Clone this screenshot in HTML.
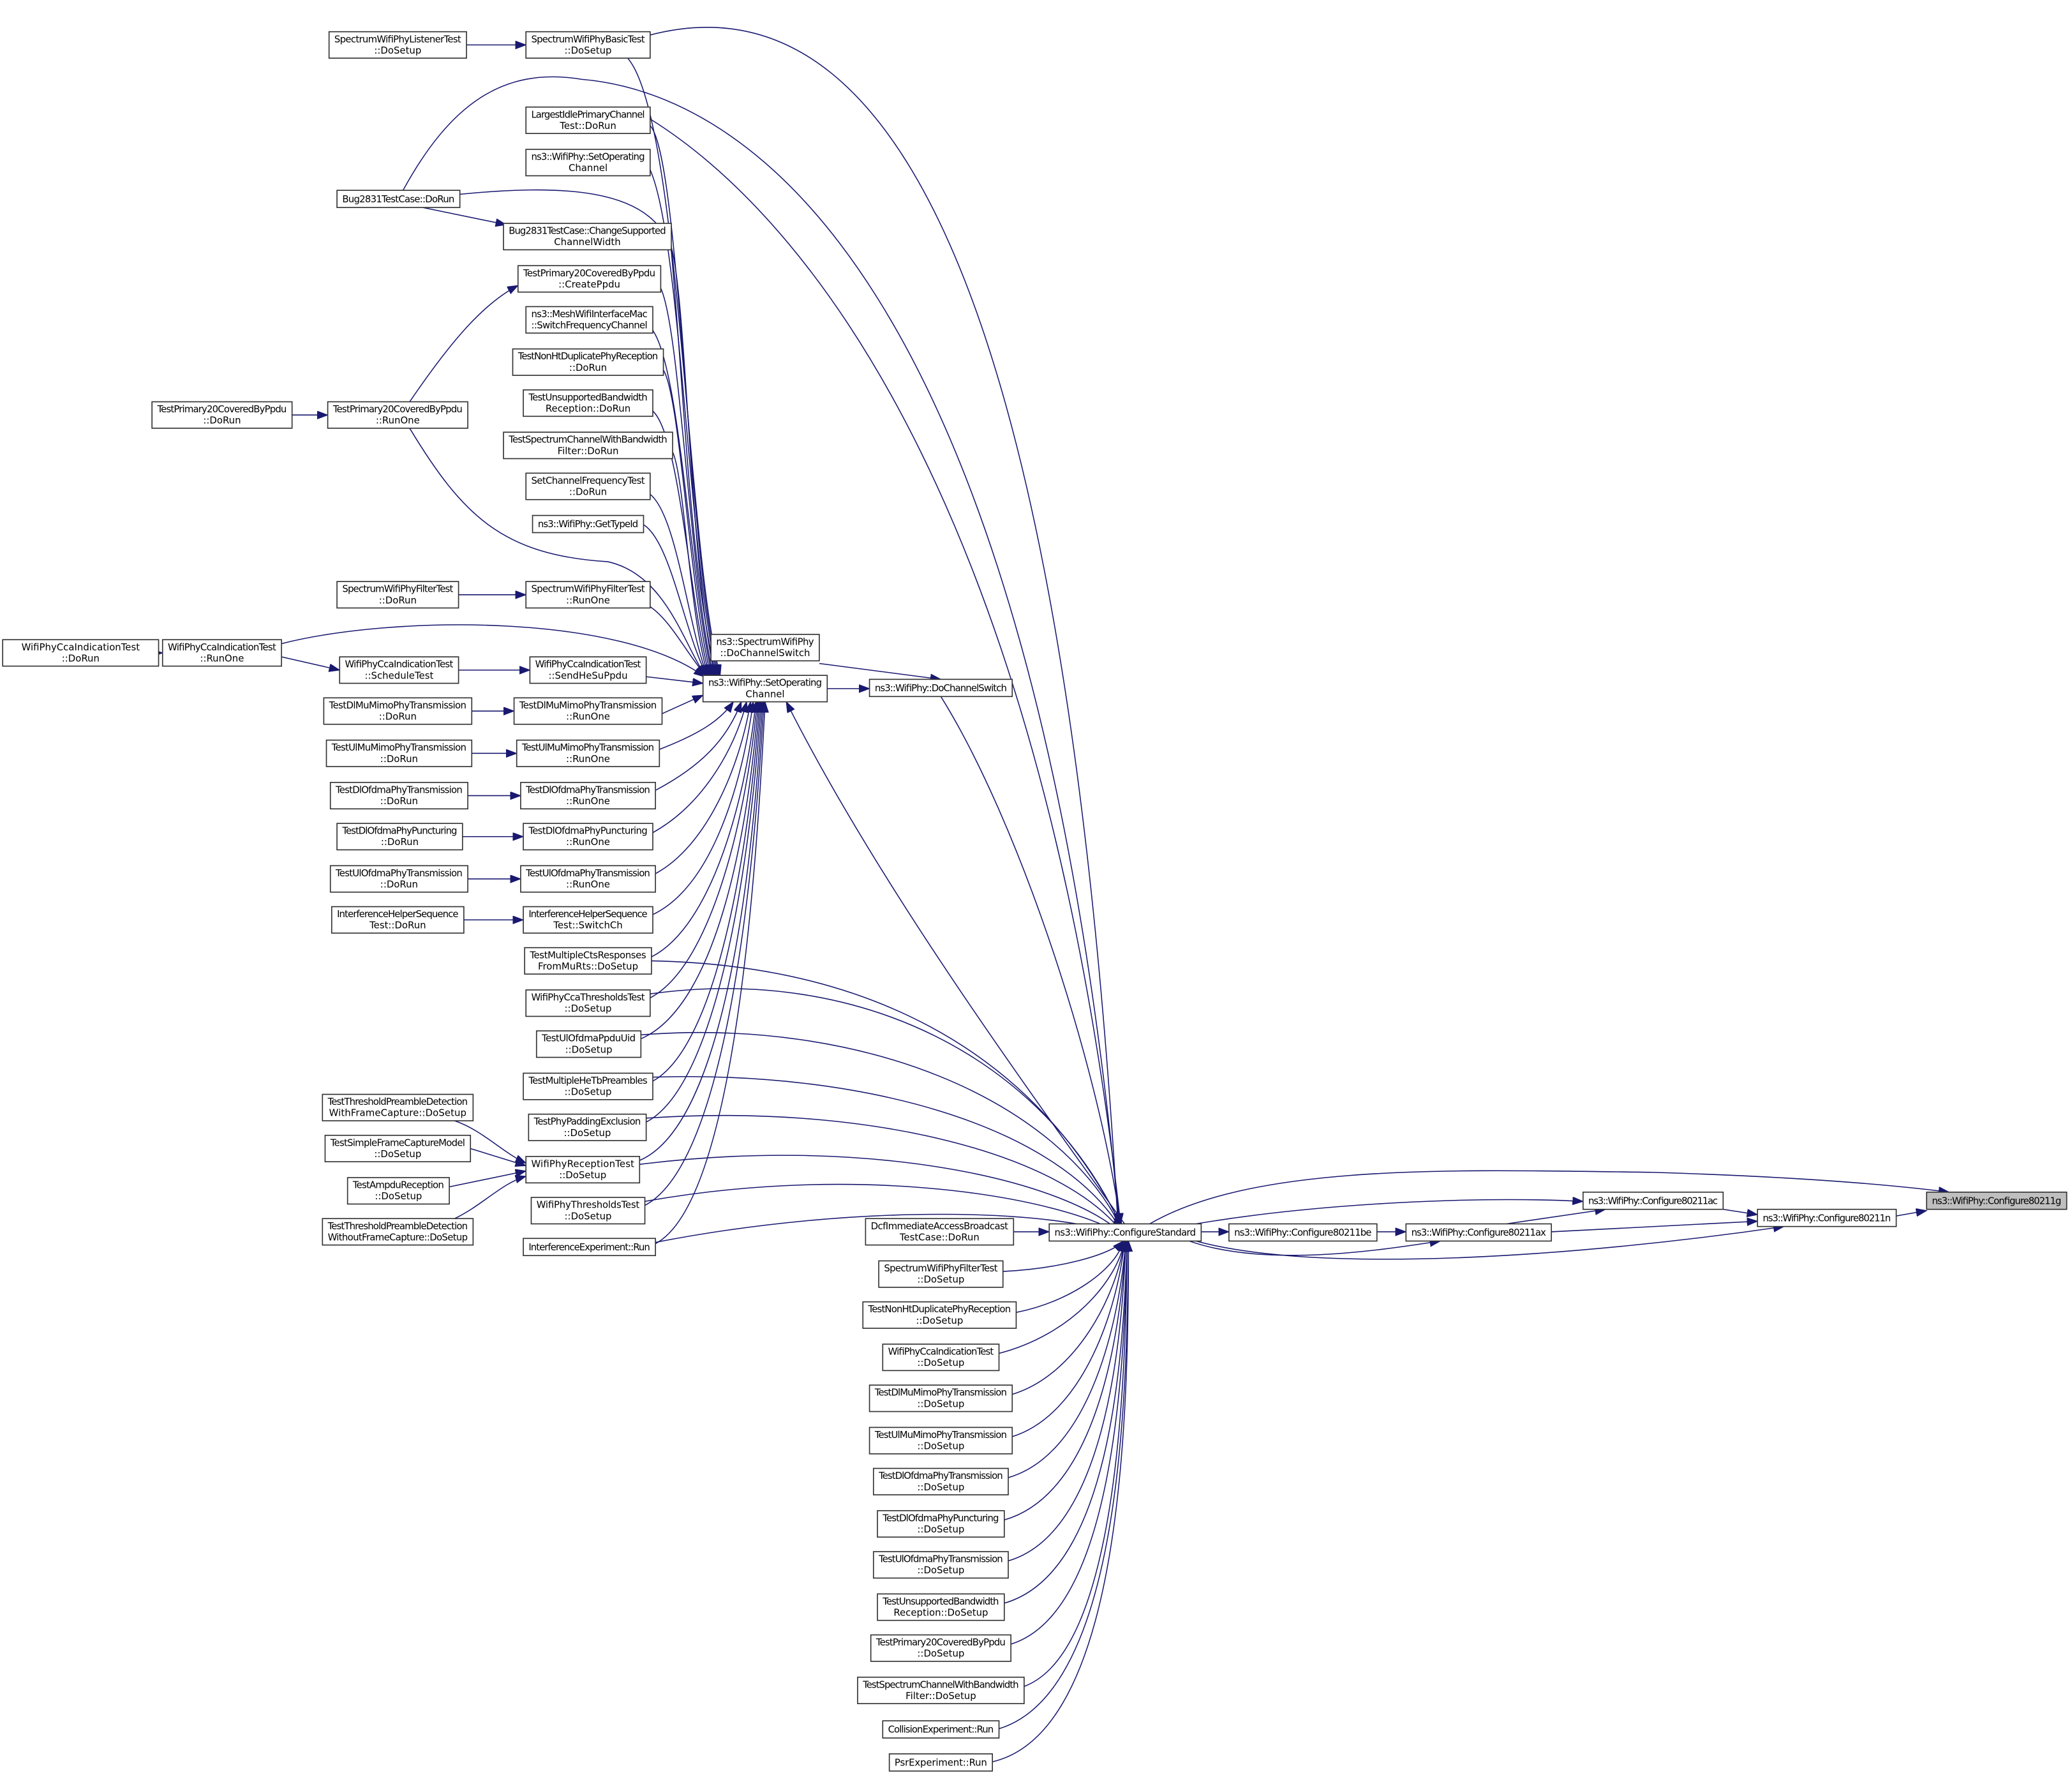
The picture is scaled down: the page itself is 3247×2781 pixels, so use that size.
<!DOCTYPE html>
<html><head><meta charset="utf-8"><style>
html,body{margin:0;padding:0;background:#fff}
svg{display:block}
text{font-family:"DejaVu Sans","Liberation Sans",sans-serif;font-size:7.2px;fill:#000;text-anchor:middle}
rect{fill:#fff;stroke:#333;stroke-width:0.8}
path.e{fill:none;stroke:#191970;stroke-width:0.75}
</style></head><body>
<svg width="3247" height="2781" viewBox="0 0 1568 1343" xmlns="http://www.w3.org/2000/svg">
<defs><marker id="a" markerUnits="userSpaceOnUse" markerWidth="9" markerHeight="7" refX="8" refY="3" orient="auto"><path d="M0,0 L8,3 L0,6 z" fill="#191970" stroke="#191970" stroke-width="0.5"/></marker></defs>
<g id="edges" marker-end="url(#a)">
<path class="e" d="M353,34 L398,34"/>
<path class="e" d="M221,314 L248,314"/>
<path class="e" d="M120,494 L123,494"/>
<path class="e" d="M347,450 L398,450"/>
<path class="e" d="M347,507 L401,507"/>
<path class="e" d="M357,538 L389,538"/>
<path class="e" d="M357,570 L391,570"/>
<path class="e" d="M354,602 L394,602"/>
<path class="e" d="M350,633 L396,633"/>
<path class="e" d="M354,665 L394,665"/>
<path class="e" d="M351,696 L396,696"/>
<path class="e" d="M213,497 L257,507"/>
<path class="e" d="M320,157 L383,170"/>
<path class="e" d="M310,304 C340,260 365,230 392,216"/>
<path class="e" d="M344,848 C365,855 380,872 398,880"/>
<path class="e" d="M356,869 L398,882"/>
<path class="e" d="M340,898 L398,886"/>
<path class="e" d="M344,922 C365,912 380,895 398,890"/>
<!-- to SOC from top -->
<path class="e" d="M475,44 C515,90 520,420 545,511"/>
<path class="e" d="M492,95 C515,120 520,420 544,511"/>
<path class="e" d="M489,123 C515,160 520,420 543,511"/>
<path class="e" d="M348,147 C420,140 495,140 508,190 C518,300 522,430 542,511"/>
<path class="e" d="M508,187 C520,230 522,430 541,511"/>
<path class="e" d="M500,218 C515,250 522,440 540,511"/>
<path class="e" d="M494,250 C515,280 522,440 539,511"/>
<path class="e" d="M502,280 C515,300 522,450 538,511"/>
<path class="e" d="M494,311 C515,330 522,460 537,511"/>
<path class="e" d="M509,342 C518,360 522,470 536,511"/>
<path class="e" d="M492,374 C512,390 520,470 535,511"/>
<path class="e" d="M487,397 C508,410 518,480 535,511"/>
<path class="e" d="M310,324 C350,390 380,420 460,425 C505,435 518,490 534,511"/>
<path class="e" d="M492,459 C508,470 520,495 534,511"/>
<path class="e" d="M213,487 C300,465 470,465 533,512"/>
<path class="e" d="M489,512 L532,517"/>
<path class="e" d="M501,540 L532,526"/>
<!-- to SOC from below -->
<path class="e" d="M499,567 C530,555 545,545 555,531"/>
<path class="e" d="M496,598 C530,580 550,560 561,531"/>
<path class="e" d="M494,630 C530,610 555,570 565,531"/>
<path class="e" d="M496,661 C535,640 560,580 568,531"/>
<path class="e" d="M494,692 C540,670 562,590 570,531"/>
<path class="e" d="M493,724 C540,700 565,600 572,531"/>
<path class="e" d="M492,755 C540,730 566,610 573,531"/>
<path class="e" d="M485,786 C545,760 567,620 574,531"/>
<path class="e" d="M494,818 C545,790 568,630 575,531"/>
<path class="e" d="M489,849 C545,820 569,640 576,531"/>
<path class="e" d="M484,878 C550,850 570,650 577,531"/>
<path class="e" d="M488,912 C550,880 571,660 578,531"/>
<path class="e" d="M496,941 C555,910 572,670 579,531"/>
<path class="e" d="M851,926 C760,800 660,660 595,531"/>
<!-- DoChannelSwitch -->
<path class="e" d="M620,502 L712,514"/>
<path class="e" d="M626,521 L658,521"/>
<path class="e" d="M712,527 C770,620 830,800 848,926"/>
<!-- to ConfigureStandard from left/top -->
<path class="e" d="M490,27 C700,-30 810,300 846,926"/>
<path class="e" d="M305,144 C340,80 380,50 440,60 C560,70 780,200 847,926"/>
<path class="e" d="M492,90 C620,170 790,400 848,926"/>
<path class="e" d="M493,727 C650,730 780,790 849,928"/>
<path class="e" d="M492,752 C650,730 790,800 849,929"/>
<path class="e" d="M485,783 C650,770 800,830 849,930"/>
<path class="e" d="M494,815 C650,810 800,850 849,931"/>
<path class="e" d="M489,846 C650,835 800,870 849,932"/>
<path class="e" d="M484,881 C650,860 800,890 849,933"/>
<path class="e" d="M488,909 C650,880 800,905 849,934"/>
<path class="e" d="M496,940 C650,910 800,915 849,935"/>
<path class="e" d="M767,932 L794,932"/>
<!-- to CS from column E below -->
<path class="e" d="M759,962 C800,960 840,950 850,939"/>
<path class="e" d="M769,993 C810,985 845,960 850,939"/>
<path class="e" d="M756,1024 C810,1010 845,970 851,939"/>
<path class="e" d="M766,1055 C815,1040 845,980 851,939"/>
<path class="e" d="M766,1087 C820,1070 846,990 851,939"/>
<path class="e" d="M763,1118 C825,1100 847,1000 852,939"/>
<path class="e" d="M760,1150 C830,1130 848,1010 852,939"/>
<path class="e" d="M763,1181 C835,1160 849,1020 852,939"/>
<path class="e" d="M760,1213 C840,1190 850,1030 853,939"/>
<path class="e" d="M765,1244 C842,1220 851,1040 853,939"/>
<path class="e" d="M775,1276 C845,1250 852,1050 853,939"/>
<path class="e" d="M756,1308 C848,1280 853,1060 854,939"/>
<path class="e" d="M751,1333 C850,1310 854,1070 854,939"/>
<!-- right chain -->
<path class="e" d="M909,932 L930,932"/>
<path class="e" d="M1042,932 L1064,932"/>
<path class="e" d="M905,926 C1000,910 1120,905 1198,909"/>
<path class="e" d="M1140,926 L1215,915"/>
<path class="e" d="M1304,915 L1330,919"/>
<path class="e" d="M1174,932 L1330,924"/>
<path class="e" d="M1435,920 L1458,916"/>
<path class="e" d="M900,939 C960,960 1050,945 1090,939"/>
<path class="e" d="M905,939 C1000,965 1200,950 1350,928"/>
<path class="e" d="M870,926 C950,880 1100,885 1250,887 C1350,890 1420,895 1475,902"/>
</g>
<g id="nodes">
<rect x="2" y="484" width="118" height="20"/><text x="61" y="492">WifiPhyCcaIndicationTest</text><text x="61" y="500.5">::DoRun</text>
<rect x="115" y="304" width="106" height="20"/><text x="168" y="312" textLength="98">TestPrimary20CoveredByPpdu</text><text x="168" y="320.5">::DoRun</text>
<rect x="123" y="484" width="90" height="20"/><text x="168" y="492" textLength="82">WifiPhyCcaIndicationTest</text><text x="168" y="500.5">::RunOne</text>
<rect x="249" y="24" width="104" height="20"/><text x="301" y="32" textLength="96">SpectrumWifiPhyListenerTest</text><text x="301" y="40.5">::DoSetup</text>
<rect x="255" y="144" width="93" height="13"/><text x="301.5" y="153" textLength="85">Bug2831TestCase::DoRun</text>
<rect x="248" y="304" width="106" height="20"/><text x="301" y="312" textLength="98">TestPrimary20CoveredByPpdu</text><text x="301" y="320.5">::RunOne</text>
<rect x="255" y="440" width="92" height="20"/><text x="301" y="448" textLength="84">SpectrumWifiPhyFilterTest</text><text x="301" y="456.5">::DoRun</text>
<rect x="257" y="497" width="90" height="20"/><text x="302" y="505" textLength="82">WifiPhyCcaIndicationTest</text><text x="302" y="513.5">::ScheduleTest</text>
<rect x="245" y="528" width="112" height="20"/><text x="301" y="536" textLength="104">TestDlMuMimoPhyTransmission</text><text x="301" y="544.5">::DoRun</text>
<rect x="247" y="560" width="110" height="20"/><text x="302" y="568" textLength="102">TestUlMuMimoPhyTransmission</text><text x="302" y="576.5">::DoRun</text>
<rect x="250" y="592" width="104" height="20"/><text x="302" y="600" textLength="96">TestDlOfdmaPhyTransmission</text><text x="302" y="608.5">::DoRun</text>
<rect x="255" y="623" width="95" height="20"/><text x="302.5" y="631" textLength="87">TestDlOfdmaPhyPuncturing</text><text x="302.5" y="639.5">::DoRun</text>
<rect x="250" y="655" width="104" height="20"/><text x="302" y="663" textLength="96">TestUlOfdmaPhyTransmission</text><text x="302" y="671.5">::DoRun</text>
<rect x="251" y="686" width="100" height="20"/><text x="301" y="694" textLength="92">InterferenceHelperSequence</text><text x="301" y="702.5">Test::DoRun</text>
<rect x="244" y="828" width="114" height="20"/><text x="301" y="836" textLength="106">TestThresholdPreambleDetection</text><text x="301" y="844.5" textLength="104">WithFrameCapture::DoSetup</text>
<rect x="246" y="859" width="110" height="20"/><text x="301" y="867" textLength="102">TestSimpleFrameCaptureModel</text><text x="301" y="875.5">::DoSetup</text>
<rect x="263" y="891" width="77" height="20"/><text x="301.5" y="899" textLength="69">TestAmpduReception</text><text x="301.5" y="907.5">::DoSetup</text>
<rect x="244" y="922" width="114" height="20"/><text x="301" y="930" textLength="106">TestThresholdPreambleDetection</text><text x="301" y="938.5" textLength="106">WithoutFrameCapture::DoSetup</text>
<rect x="398" y="24" width="94" height="20"/><text x="445" y="32" textLength="86">SpectrumWifiPhyBasicTest</text><text x="445" y="40.5">::DoSetup</text>
<rect x="398" y="81" width="94" height="20"/><text x="445" y="89" textLength="86">LargestIdlePrimaryChannel</text><text x="445" y="97.5">Test::DoRun</text>
<rect x="398" y="113" width="94" height="20"/><text x="445" y="121" textLength="86">ns3::WifiPhy::SetOperating</text><text x="445" y="129.5">Channel</text>
<rect x="381" y="169" width="127" height="20"/><text x="444.5" y="177" textLength="119">Bug2831TestCase::ChangeSupported</text><text x="444.5" y="185.5">ChannelWidth</text>
<rect x="392" y="201" width="108" height="20"/><text x="446" y="209" textLength="100">TestPrimary20CoveredByPpdu</text><text x="446" y="217.5">::CreatePpdu</text>
<rect x="398" y="232" width="96" height="20"/><text x="446" y="240" textLength="88">ns3::MeshWifiInterfaceMac</text><text x="446" y="248.5" textLength="88">::SwitchFrequencyChannel</text>
<rect x="388" y="264" width="114" height="20"/><text x="445" y="272" textLength="106">TestNonHtDuplicatePhyReception</text><text x="445" y="280.5">::DoRun</text>
<rect x="396" y="295" width="98" height="20"/><text x="445" y="303" textLength="90">TestUnsupportedBandwidth</text><text x="445" y="311.5">Reception::DoRun</text>
<rect x="381" y="327" width="128" height="20"/><text x="445" y="335" textLength="120">TestSpectrumChannelWithBandwidth</text><text x="445" y="343.5">Filter::DoRun</text>
<rect x="398" y="358" width="94" height="20"/><text x="445" y="366" textLength="86">SetChannelFrequencyTest</text><text x="445" y="374.5">::DoRun</text>
<rect x="403" y="390" width="84" height="13"/><text x="445" y="399" textLength="76">ns3::WifiPhy::GetTypeId</text>
<rect x="398" y="440" width="94" height="20"/><text x="445" y="448" textLength="86">SpectrumWifiPhyFilterTest</text><text x="445" y="456.5">::RunOne</text>
<rect x="401" y="497" width="88" height="20"/><text x="445" y="505" textLength="80">WifiPhyCcaIndicationTest</text><text x="445" y="513.5">::SendHeSuPpdu</text>
<rect x="389" y="528" width="112" height="20"/><text x="445" y="536" textLength="104">TestDlMuMimoPhyTransmission</text><text x="445" y="544.5">::RunOne</text>
<rect x="391" y="560" width="108" height="20"/><text x="445" y="568" textLength="100">TestUlMuMimoPhyTransmission</text><text x="445" y="576.5">::RunOne</text>
<rect x="394" y="592" width="102" height="20"/><text x="445" y="600" textLength="94">TestDlOfdmaPhyTransmission</text><text x="445" y="608.5">::RunOne</text>
<rect x="396" y="623" width="98" height="20"/><text x="445" y="631" textLength="90">TestDlOfdmaPhyPuncturing</text><text x="445" y="639.5">::RunOne</text>
<rect x="394" y="655" width="102" height="20"/><text x="445" y="663" textLength="94">TestUlOfdmaPhyTransmission</text><text x="445" y="671.5">::RunOne</text>
<rect x="396" y="686" width="98" height="20"/><text x="445" y="694" textLength="90">InterferenceHelperSequence</text><text x="445" y="702.5">Test::SwitchCh</text>
<rect x="397" y="717" width="96" height="20"/><text x="445" y="725" textLength="88">TestMultipleCtsResponses</text><text x="445" y="733.5">FromMuRts::DoSetup</text>
<rect x="398" y="749" width="94" height="20"/><text x="445" y="757" textLength="86">WifiPhyCcaThresholdsTest</text><text x="445" y="765.5">::DoSetup</text>
<rect x="406" y="780" width="79" height="20"/><text x="445.5" y="788" textLength="71">TestUlOfdmaPpduUid</text><text x="445.5" y="796.5">::DoSetup</text>
<rect x="396" y="812" width="98" height="20"/><text x="445" y="820" textLength="90">TestMultipleHeTbPreambles</text><text x="445" y="828.5">::DoSetup</text>
<rect x="400" y="843" width="89" height="20"/><text x="444.5" y="851" textLength="81">TestPhyPaddingExclusion</text><text x="444.5" y="859.5">::DoSetup</text>
<rect x="398" y="875" width="86" height="20"/><text x="441" y="883" textLength="78">WifiPhyReceptionTest</text><text x="441" y="891.5">::DoSetup</text>
<rect x="402" y="906" width="86" height="20"/><text x="445" y="914" textLength="78">WifiPhyThresholdsTest</text><text x="445" y="922.5">::DoSetup</text>
<rect x="396" y="937" width="100" height="13"/><text x="446" y="946" textLength="92">InterferenceExperiment::Run</text>
<rect x="538" y="480" width="82" height="20"/><text x="579" y="488" textLength="74">ns3::SpectrumWifiPhy</text><text x="579" y="496.5">::DoChannelSwitch</text>
<rect x="532" y="511" width="94" height="20"/><text x="579" y="519" textLength="86">ns3::WifiPhy::SetOperating</text><text x="579" y="527.5">Channel</text>
<rect x="658" y="514" width="108" height="13"/><text x="712" y="523" textLength="100">ns3::WifiPhy::DoChannelSwitch</text>
<rect x="655" y="922" width="112" height="20"/><text x="711" y="930" textLength="104">DcfImmediateAccessBroadcast</text><text x="711" y="938.5">TestCase::DoRun</text>
<rect x="665" y="954" width="94" height="20"/><text x="712" y="962" textLength="86">SpectrumWifiPhyFilterTest</text><text x="712" y="970.5">::DoSetup</text>
<rect x="653" y="985" width="116" height="20"/><text x="711" y="993" textLength="108">TestNonHtDuplicatePhyReception</text><text x="711" y="1001.5">::DoSetup</text>
<rect x="668" y="1017" width="88" height="20"/><text x="712" y="1025" textLength="80">WifiPhyCcaIndicationTest</text><text x="712" y="1033.5">::DoSetup</text>
<rect x="658" y="1048" width="108" height="20"/><text x="712" y="1056" textLength="100">TestDlMuMimoPhyTransmission</text><text x="712" y="1064.5">::DoSetup</text>
<rect x="658" y="1080" width="108" height="20"/><text x="712" y="1088" textLength="100">TestUlMuMimoPhyTransmission</text><text x="712" y="1096.5">::DoSetup</text>
<rect x="661" y="1111" width="102" height="20"/><text x="712" y="1119" textLength="94">TestDlOfdmaPhyTransmission</text><text x="712" y="1127.5">::DoSetup</text>
<rect x="664" y="1143" width="96" height="20"/><text x="712" y="1151" textLength="88">TestDlOfdmaPhyPuncturing</text><text x="712" y="1159.5">::DoSetup</text>
<rect x="661" y="1174" width="102" height="20"/><text x="712" y="1182" textLength="94">TestUlOfdmaPhyTransmission</text><text x="712" y="1190.5">::DoSetup</text>
<rect x="664" y="1206" width="96" height="20"/><text x="712" y="1214" textLength="88">TestUnsupportedBandwidth</text><text x="712" y="1222.5">Reception::DoSetup</text>
<rect x="659" y="1237" width="106" height="20"/><text x="712" y="1245" textLength="98">TestPrimary20CoveredByPpdu</text><text x="712" y="1253.5">::DoSetup</text>
<rect x="649" y="1269" width="126" height="20"/><text x="712" y="1277" textLength="118">TestSpectrumChannelWithBandwidth</text><text x="712" y="1285.5">Filter::DoSetup</text>
<rect x="668" y="1302" width="88" height="13"/><text x="712" y="1311" textLength="80">CollisionExperiment::Run</text>
<rect x="673" y="1327" width="78" height="13"/><text x="712" y="1336" textLength="70">PsrExperiment::Run</text>
<rect x="794" y="926" width="115" height="13"/><text x="851.5" y="935" textLength="107">ns3::WifiPhy::ConfigureStandard</text>
<rect x="930" y="926" width="112" height="13"/><text x="986" y="935" textLength="104">ns3::WifiPhy::Configure80211be</text>
<rect x="1064" y="926" width="110" height="13"/><text x="1119" y="935" textLength="102">ns3::WifiPhy::Configure80211ax</text>
<rect x="1198" y="902" width="106" height="13"/><text x="1251" y="911" textLength="98">ns3::WifiPhy::Configure80211ac</text>
<rect x="1330" y="915" width="105" height="13"/><text x="1382.5" y="924" textLength="97">ns3::WifiPhy::Configure80211n</text>
<rect x="1458" y="902" width="106" height="13" style="fill:#bfbfbf"/><text x="1511" y="911" textLength="98">ns3::WifiPhy::Configure80211g</text>
</g>
</svg>
</body></html>
